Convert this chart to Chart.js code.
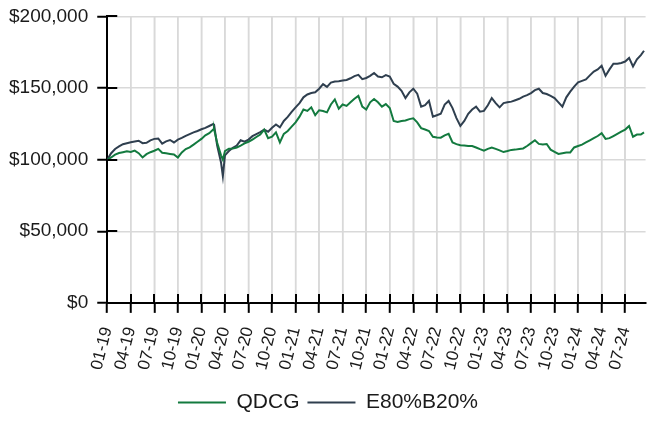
<!DOCTYPE html>
<html>
<head>
<meta charset="utf-8">
<script src="https://cdn.jsdelivr.net/npm/chart.js@4.4.1/dist/chart.umd.min.js"></script>
<style>
  html, body { margin: 0; padding: 0; background: #fff; }
</style>
</head>
<body>
<canvas id="growthChart" width="657" height="428"></canvas>
<script>
// Dates (half-monthly sampling)
const dates = [
  '2019-01-01','2019-01-16','2019-02-01','2019-02-16','2019-03-01','2019-03-16','2019-04-01','2019-04-16','2019-05-01','2019-05-16','2019-06-01','2019-06-16',
  '2019-07-01','2019-07-16','2019-08-01','2019-08-16','2019-09-01','2019-09-16','2019-10-01','2019-10-16','2019-11-01','2019-11-16','2019-12-01','2019-12-16',
  '2020-01-01','2020-01-16','2020-02-01','2020-02-16','2020-02-19','2020-03-01','2020-03-16','2020-03-23','2020-04-01','2020-04-16','2020-05-01','2020-05-16',
  '2020-06-01','2020-06-16','2020-07-01','2020-07-16','2020-08-01','2020-08-16','2020-09-01','2020-09-16','2020-10-01','2020-10-16','2020-11-01','2020-11-16','2020-12-01','2020-12-16',
  '2021-01-01','2021-01-16','2021-02-01','2021-02-16','2021-03-01','2021-03-16','2021-04-01','2021-04-16','2021-05-01','2021-05-16','2021-06-01','2021-06-16',
  '2021-07-01','2021-07-16','2021-08-01','2021-08-16','2021-09-01','2021-09-16','2021-10-01','2021-10-16','2021-11-01','2021-11-16','2021-12-01','2021-12-16',
  '2022-01-01','2022-01-16','2022-02-01','2022-02-16','2022-03-01','2022-03-16','2022-04-01','2022-04-16','2022-05-01','2022-05-16','2022-06-01','2022-06-16',
  '2022-07-01','2022-07-16','2022-08-01','2022-08-16','2022-09-01','2022-09-16','2022-10-01','2022-10-16','2022-11-01','2022-11-16','2022-12-01','2022-12-16',
  '2023-01-01','2023-01-16','2023-02-01','2023-02-16','2023-03-01','2023-03-16','2023-04-01','2023-04-16','2023-05-01','2023-05-16','2023-06-01','2023-06-16',
  '2023-07-01','2023-07-16','2023-08-01','2023-08-16','2023-09-01','2023-09-16','2023-10-01','2023-10-16','2023-11-01','2023-11-16','2023-12-01','2023-12-16',
  '2024-01-01','2024-01-16','2024-02-01','2024-02-16','2024-03-01','2024-03-16','2024-04-01','2024-04-16','2024-05-01','2024-05-16','2024-06-01','2024-06-16',
  '2024-07-01','2024-07-16','2024-08-01','2024-08-16','2024-09-01','2024-09-13'
];

// portfolio values in $ thousands
const qdcg = [
  100, 101.5, 103.5, 104.6, 105.2, 105.8, 105.3, 106.3, 104.5, 101.5, 103.8, 105.2,
  106.2, 107.5, 104.8, 104.4, 104, 103.6, 101.5, 105, 107.4, 108.6, 110.5, 112.5,
  114.5, 117, 118.5, 121, 121.5, 112, 103, 100, 106, 107.6, 107.8, 108.5,
  109.8, 111.3, 112.5, 114, 115.8, 117.5, 121, 115, 116, 119, 112, 118, 120, 123,
  126, 130, 135, 134, 136.5, 131, 134.5, 134, 133, 138.5, 142, 135.5,
  138.5, 137.5, 140, 142.5, 144.5, 137, 135, 140, 142.3, 140, 137, 138.8,
  136, 127, 126.3, 127, 127.3, 128.3, 128.8, 126, 122, 121, 120, 116,
  115.5, 115.3, 117, 118, 112, 110.8, 110, 109.8, 109.5, 109.5, 108.5, 107.3,
  106.2, 107.5, 108.5, 107.5, 106.5, 105.3, 106, 106.8, 107, 107.5, 107.8, 109.5,
  111.5, 113.5, 111, 110.5, 110.9, 107, 105.5, 104, 104.5, 105, 105, 108.5,
  109.5, 110.5, 112, 113.5, 115, 116.5, 118.5, 114.5, 115, 116.5, 118, 119.5,
  121, 123.5, 116, 117.5, 117.5, 119
];

const e80b20 = [
  100, 104.5, 107.4, 109.2, 110.8, 111.5, 112.2, 112.7, 113.2, 111.5, 111.8, 113.5,
  114.5, 114.8, 111.2, 112.8, 113.7, 112, 114, 115.2, 116.6, 117.8, 119, 120,
  121.2, 122.2, 123.5, 124.8, 125, 110, 98, 88.5, 103, 106, 108.3, 109.8,
  113.5, 112.5, 114, 116.4, 117.8, 119.2, 121, 119.5, 122.3, 124.5, 122.5, 127, 129.8, 133.3,
  136.5, 139.5, 143.5, 145.5, 146.5, 147, 149.5, 152.7, 150.8, 153.8, 154.5, 154.8,
  155.2, 155.6, 156.8, 158.3, 159.2, 156.2, 157, 158.5, 160.5, 158, 157.5, 159,
  158, 153, 151, 148, 143, 147, 149.5, 146, 137, 138, 141, 130,
  131, 132, 138.5, 141, 136, 129, 123.5, 127, 132, 135, 137, 133.5,
  134, 138, 143, 139.5, 136.5, 139.5, 140, 140.5, 141.5, 142.5, 144, 145,
  146.5, 148.5, 149.5, 146.5, 145.8, 144.5, 143, 140, 137, 143.5, 147.5, 151,
  154, 155, 156, 158.8, 161.5, 163, 165.5, 158.5, 163, 167, 167, 167.5,
  168.5, 171, 165, 170, 173, 176
];

const seriesNames = ['QDCG', 'E80%B20%'];
const seriesColors = ['#137a3f', '#2f3f4f'];

// months since Jan 2019
function monthIndex(d) {
    const [yy, mm, dd] = d.split('-').map(Number);
    return (yy - 2019) * 12 + (mm - 1) + (dd - 1) / 30;
}

function toPoints(values) {
    return values.map((v, i) => ({ x: monthIndex(dates[i]), y: v * 1000 }));
}

// vertical grid lines + ticks that cross the axis lines
const crossTicks = {
    id: 'crossTicks',
    beforeDatasetsDraw(chart) {
        const { ctx, chartArea, scales } = chart;
        ctx.save();
        ctx.strokeStyle = '#d9d9d9';
        ctx.lineWidth = 1.5;
        ctx.beginPath();
        scales.x.ticks.forEach((t, i) => {
            if (i === 0) return;
            const px = scales.x.getPixelForTick(i);
            ctx.moveTo(px, chartArea.top);
            ctx.lineTo(px, chartArea.bottom);
        });
        ctx.stroke();
        ctx.restore();
    },
    afterDatasetsDraw(chart) {
        const { ctx, chartArea, scales } = chart;
        ctx.save();
        ctx.strokeStyle = '#000';
        ctx.lineWidth = 2;
        ctx.beginPath();
        scales.x.ticks.forEach((t, i) => {
            const px = Math.round(scales.x.getPixelForTick(i));
            ctx.moveTo(px, chartArea.bottom);
            ctx.lineTo(px, chartArea.bottom - 9);
        });
        scales.y.ticks.forEach((t, i) => {
            const py = Math.round(scales.y.getPixelForTick(i));
            ctx.moveTo(chartArea.left, py);
            ctx.lineTo(chartArea.left + 10, py);
        });
        ctx.stroke();
        ctx.restore();
    }
};

const fontFamily = "'Liberation Sans', Arial, sans-serif";

new Chart(document.getElementById('growthChart'), {
    type: 'line',
    data: {
        datasets: [
            {
                label: seriesNames[0],
                data: toPoints(qdcg),
                borderColor: seriesColors[0],
                backgroundColor: seriesColors[0],
                borderWidth: 2,
                pointRadius: 0,
                tension: 0
            },
            {
                label: seriesNames[1],
                data: toPoints(e80b20),
                borderColor: seriesColors[1],
                backgroundColor: seriesColors[1],
                borderWidth: 2,
                pointRadius: 0,
                tension: 0
            }
        ]
    },
    options: {
        responsive: false,
        animation: false,
        layout: { padding: { left: 0, right: 1, top: 0, bottom: 5 } },
        plugins: {
            legend: {
                position: 'bottom',
                labels: {
                    boxWidth: 48,
                    boxHeight: 2,
                    padding: 8,
                    color: '#1a1a1a',
                    font: { family: fontFamily, size: 21 },
                    generateLabels(chart) {
                        return Chart.defaults.plugins.legend.labels.generateLabels(chart).map(item => {
                            item.lineWidth = 0;
                            item.fillStyle = item.strokeStyle;
                            return item;
                        });
                    }
                }
            },
            tooltip: { enabled: false }
        },
        scales: {
            x: {
                type: 'linear',
                min: 0,
                max: 68.6,
                grid: {
                    color: '#d9d9d9',
                    lineWidth: 1.5,
                    tickColor: '#000',
                    tickLength: 10,
                    tickWidth: 2
                },
                border: { color: '#000', width: 2 },
                ticks: {
                    stepSize: 3,
                    includeBounds: false,
                    autoSkip: false,
                    minRotation: 76,
                    maxRotation: 76,
                    padding: 12,
                    color: '#1a1a1a',
                    font: { family: fontFamily, size: 17 },
                    callback: function(value) {
                        const m = Math.round(value);
                        const mm = String(m % 12 + 1).padStart(2, '0');
                        const yy = String(19 + Math.floor(m / 12));
                        return mm + '-' + yy;
                    }
                }
            },
            y: {
                min: 0,
                max: 200000,
                afterFit: function(scale) {
                    // top label may sit closer to the canvas edge
                    scale.paddingTop = Math.max(0, scale.paddingTop - 4);
                },
                grid: {
                    color: '#d9d9d9',
                    lineWidth: 1.5,
                    tickColor: '#000',
                    tickLength: 10,
                    tickWidth: 2
                },
                border: { color: '#000', width: 2 },
                ticks: {
                    stepSize: 50000,
                    padding: 9,
                    color: '#1a1a1a',
                    font: { family: fontFamily, size: 19 },
                    callback: value => '$' + value.toLocaleString('en-US')
                }
            }
        }
    },
    plugins: [crossTicks]
});
</script>
</body>
</html>
